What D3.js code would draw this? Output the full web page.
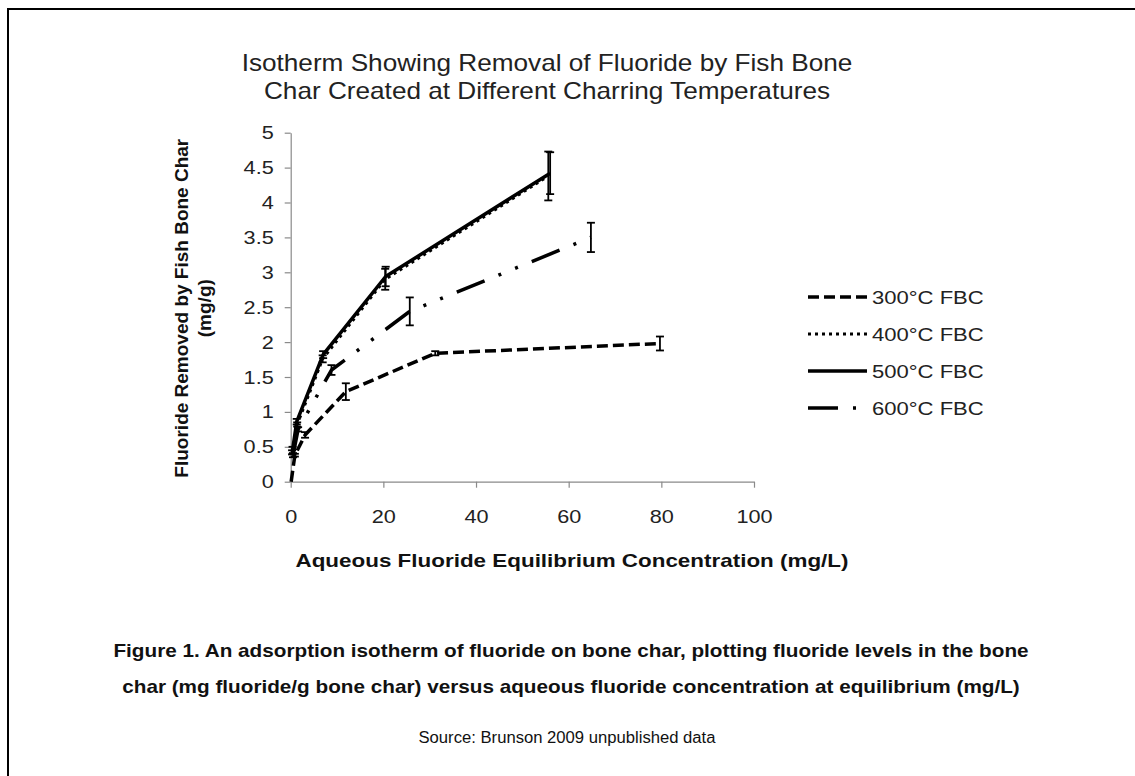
<!DOCTYPE html>
<html>
<head>
<meta charset="utf-8">
<script src="https://cdn.jsdelivr.net/npm/d3@7/dist/d3.min.js"></script>
<style>
  html, body { margin: 0; padding: 0; background: #fff; }
  svg { display: block; }
  text { font-family: "Liberation Sans", Arial, sans-serif; fill: #111; }
</style>
</head>
<body>
<svg id="chart" width="1135" height="776"></svg>
<script>
// ---- data ----
const seriesNames = ["300°C FBC", "400°C FBC", "500°C FBC", "600°C FBC"];
const x300 = [0.1, 0.9, 3.1, 11.9, 31.2, 79.7];
const y300 = [0.0, 0.38, 0.67, 1.29, 1.84, 1.98];
const e300 = [0.0, 0.02, 0.04, 0.12, 0.03, 0.1];
const x400 = [0.3, 1.4, 6.9, 20.4, 55.6];
const y400 = [0.42, 0.82, 1.76, 2.9, 4.38];
const e400 = [0.03, 0.03, 0.05, 0.15, 0.35];
const x500 = [0.4, 1.3, 7.0, 20.5, 56.0];
const y500 = [0.45, 0.86, 1.82, 2.94, 4.42];
const e500 = [0.05, 0.04, 0.05, 0.14, 0.3];
const x600 = [0.5, 1.6, 8.8, 25.7, 64.8];
const y600 = [0.38, 0.75, 1.6, 2.44, 3.5];
const e600 = [0.03, 0.03, 0.07, 0.2, 0.21];
const xTicks = [0, 20, 40, 60, 80, 100];
const yTicks = [0, 0.5, 1, 1.5, 2, 2.5, 3, 3.5, 4, 4.5, 5];

const titleLines = ["Isotherm Showing Removal of Fluoride by Fish Bone",
                    "Char Created at Different Charring Temperatures"];
const yLabelLines = ["Fluoride Removed by Fish Bone Char", "(mg/g)"];
const xLabel = "Aqueous Fluoride Equilibrium Concentration (mg/L)";
const captionLines = ["Figure 1. An adsorption isotherm of fluoride on bone char, plotting fluoride levels in the bone",
                      "char (mg fluoride/g bone char) versus aqueous fluoride concentration at equilibrium (mg/L)"];
const sourceText = "Source: Brunson 2009 unpublished data";

// ---- build ----
const series = [
  {name: seriesNames[0], xs: x300, ys: y300, es: e300, dash: "11,5", width: 3.5},
  {name: seriesNames[1], xs: x400, ys: y400, es: e400, dash: "3,4", width: 3},
  {name: seriesNames[2], xs: x500, ys: y500, es: e500, dash: null, width: 3.5},
  {name: seriesNames[3], xs: x600, ys: y600, es: e600, dash: "30,15,3,15,3,15", width: 3.5}
].map(s => ({...s, pts: s.xs.map((x, i) => ({x, y: s.ys[i], e: s.es[i]}))}));

const svg = d3.select("#chart");

// horizontally widen text (reference glyphs are wider than the font)
function widen(sel, factor) {
  sel.each(function () {
    const w = this.getComputedTextLength();
    d3.select(this).attr("textLength", w * factor).attr("lengthAdjust", "spacingAndGlyphs");
  });
}

// frame (top and left only, as in the cropped figure)
svg.append("line").attr("x1", 8).attr("x2", 1135).attr("y1", 9).attr("y2", 9)
  .attr("stroke", "#000").attr("stroke-width", 2);
svg.append("line").attr("x1", 8).attr("x2", 8).attr("y1", 8).attr("y2", 776)
  .attr("stroke", "#000").attr("stroke-width", 2);

const x = d3.scaleLinear().domain([0, 100]).range([290.7, 754]);
const y = d3.scaleLinear().domain([0, 5]).range([481.7, 132.7]);

// title
titleLines.forEach((t, i) => {
  svg.append("text").attr("text-anchor", "middle").attr("x", 547).attr("y", 71 + i * 28)
    .style("font-size", "24px").style("fill", "#222").text(t)
    .call(widen, 1.09);
});

// axes
const gx = svg.append("g").attr("transform", `translate(0,${y(0)})`)
  .call(d3.axisBottom(x).tickValues(xTicks).tickSize(6).tickSizeOuter(0).tickPadding(21));
const gy = svg.append("g").attr("transform", `translate(${x(0)},0)`)
  .call(d3.axisLeft(y).tickValues(yTicks).tickSize(6).tickSizeOuter(0).tickPadding(11)
    .tickFormat(d3.format("")));
[gx, gy].forEach(g => {
  g.select(".domain").attr("stroke", "#8a8a8a").attr("stroke-width", 1.2);
  g.selectAll(".tick line").attr("stroke", "#8a8a8a").attr("stroke-width", 1.2);
  g.selectAll(".tick text").style("font-size", "19px").style("fill", "#222")
    .style("font-family", "'Liberation Sans', Arial, sans-serif");
});
gx.selectAll(".tick text").attr("dy", "0.75em").call(widen, 1.14);
gy.selectAll(".tick text").call(widen, 1.14);

// axis labels
svg.append("text").attr("text-anchor", "middle").attr("x", 572).attr("y", 567)
  .style("font-size", "19px").style("font-weight", "bold").text(xLabel)
  .call(widen, 1.18);
yLabelLines.forEach((t, i) => {
  svg.append("text").attr("text-anchor", "middle")
    .attr("transform", `translate(${188 + i * 23},${(132.7 + 481.7) / 2 + 1}) rotate(-90)`)
    .style("font-size", "19px").style("font-weight", "bold").text(t);
});

// lines
const line = d3.line().x(d => x(d.x)).y(d => y(d.y));
const plot = svg.append("g");
series.forEach(s => {
  plot.append("path").datum(s.pts).attr("d", line)
    .attr("fill", "none").attr("stroke", "#000")
    .attr("stroke-width", s.width)
    .attr("stroke-dasharray", s.dash)
    .attr("stroke-linejoin", "round");
});
// error bars
series.forEach(s => {
  const g = plot.append("g");
  s.pts.filter(p => p.e > 0).forEach(p => {
    const cx = x(p.x), y1 = y(p.y + p.e), y2 = y(p.y - p.e);
    g.append("line").attr("x1", cx).attr("x2", cx).attr("y1", y1).attr("y2", y2)
      .attr("stroke", "#000").attr("stroke-width", 1.8);
    [y1, y2].forEach(yy => g.append("line").attr("x1", cx - 4).attr("x2", cx + 4)
      .attr("y1", yy).attr("y2", yy).attr("stroke", "#000").attr("stroke-width", 1.8));
  });
});

// legend
const leg = svg.append("g");
series.forEach((s, i) => {
  const ly = 297 + i * 37;
  leg.append("line").attr("x1", 808).attr("x2", 867).attr("y1", ly).attr("y2", ly)
    .attr("stroke", "#000").attr("stroke-width", s.width)
    .attr("stroke-dasharray", s.dash);
  leg.append("text").attr("x", 872).attr("y", ly + 7)
    .style("font-size", "19px").style("fill", "#222").text(s.name)
    .call(widen, 1.16);
});

// caption
captionLines.forEach((t, i) => {
  svg.append("text").attr("text-anchor", "middle").attr("x", 571).attr("y", 657 + i * 36)
    .style("font-size", "19px").style("font-weight", "bold").text(t)
    .call(widen, 1.09);
});
svg.append("text").attr("text-anchor", "middle").attr("x", 567).attr("y", 743)
  .style("font-size", "16px").text(sourceText)
  .call(widen, 1.04);
</script>
</body>
</html>
